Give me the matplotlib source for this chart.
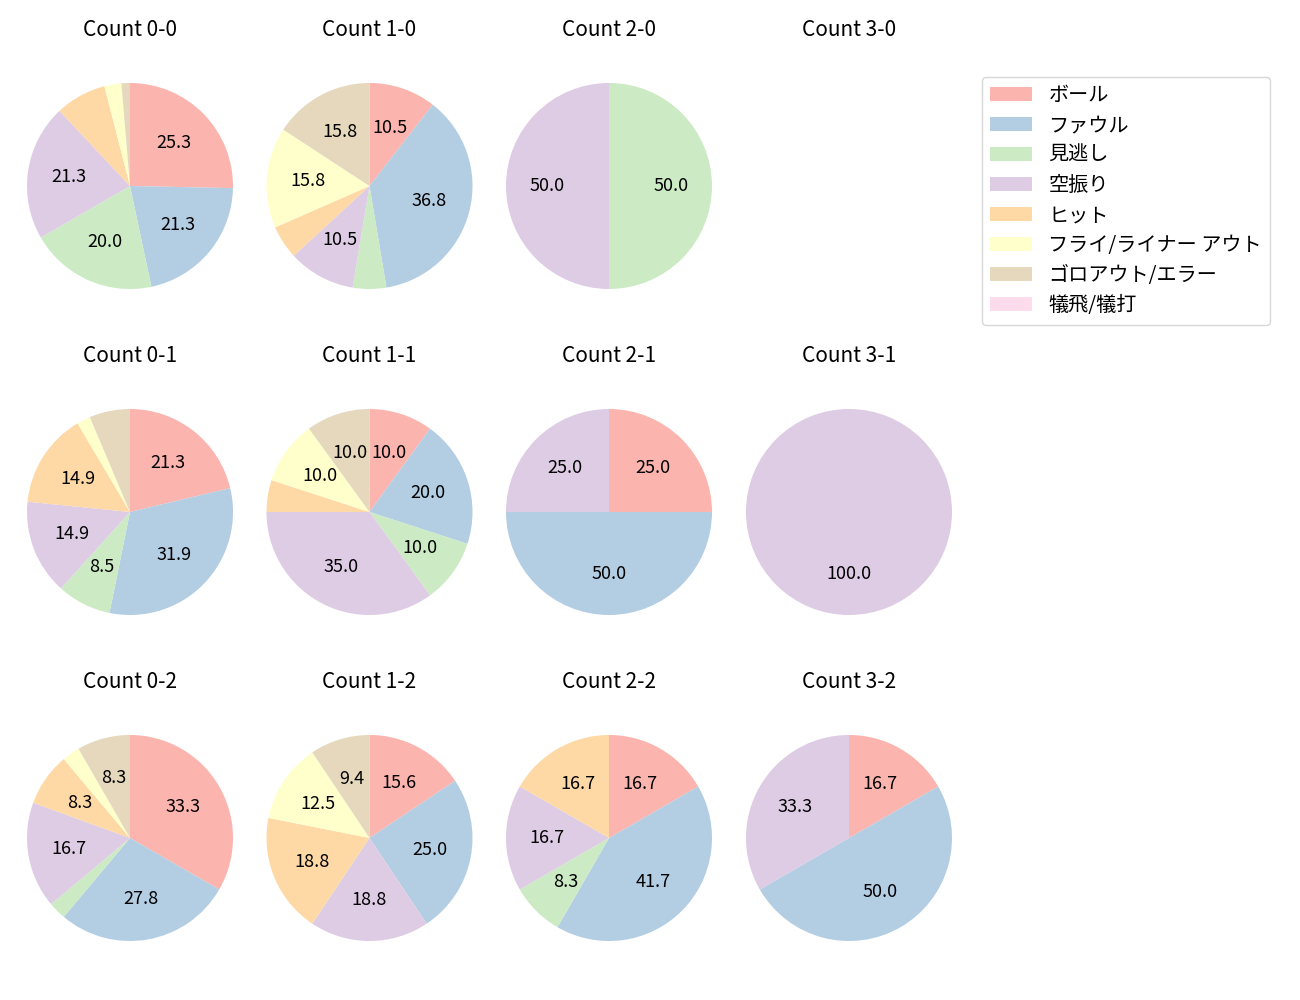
import numpy as np
import matplotlib.pyplot as plt
from matplotlib.patches import Patch

plt.rcParams['font.family'] = ['Noto Sans CJK JP', 'DejaVu Sans']
plt.rcParams['font.size'] = 12

categories = ['ボール', 'ファウル', '見逃し', '空振り', 'ヒット',
              'フライ/ライナー アウト', 'ゴロアウト/エラー', '犠飛/犠打']
colors = plt.cm.Pastel1(np.arange(len(categories)))

# pitch counts per ball-strike count, in category order
count_labels = ['0-0', '1-0', '2-0', '3-0',
                '0-1', '1-1', '2-1', '3-1',
                '0-2', '1-2', '2-2', '3-2']
count_values = [
    [19, 16, 15, 16, 6, 2, 1, 0],
    [2, 7, 1, 2, 1, 3, 3, 0],
    [0, 0, 1, 1, 0, 0, 0, 0],
    [0, 0, 0, 0, 0, 0, 0, 0],
    [10, 15, 4, 7, 7, 1, 3, 0],
    [2, 4, 2, 7, 1, 2, 2, 0],
    [1, 2, 0, 1, 0, 0, 0, 0],
    [0, 0, 0, 1, 0, 0, 0, 0],
    [12, 10, 1, 6, 3, 1, 3, 0],
    [5, 8, 0, 6, 6, 4, 3, 0],
    [2, 5, 1, 2, 2, 0, 0, 0],
    [1, 3, 0, 2, 0, 0, 0, 0],
]

W, H = 1300, 1000
fig = plt.figure(figsize=(13, 10), dpi=100)

col_x = [130, 369.5, 609, 849]
row_y = [186, 512, 838]
side = 257.5  # 2.5 units at radius 103 px

for i, (lab, vals) in enumerate(zip(count_labels, count_values)):
    r, c = divmod(i, 4)
    cx, cy = col_x[c], row_y[r]
    ax = fig.add_axes([(cx - side / 2) / W, 1 - (cy + side / 2) / H, side / W, side / H])
    ax.set_title(f'Count {lab}', fontsize=15, pad=15.5)
    if sum(vals) == 0:
        ax.axis('off')
        continue
    ax.pie(vals, colors=colors, startangle=90, counterclock=False,
           autopct=lambda p: f'{p:.1f}' if p > 8.1 else '',
           textprops={'fontsize': 13})

handles = [Patch(facecolor=col) for col in colors]
fig.legend(handles, categories, loc='upper left', borderaxespad=0,
           bbox_to_anchor=(982 / W, 1 - 77 / H), fontsize=14.5, handlelength=2.1,
           labelspacing=0.45)

fig.savefig('out.png')
